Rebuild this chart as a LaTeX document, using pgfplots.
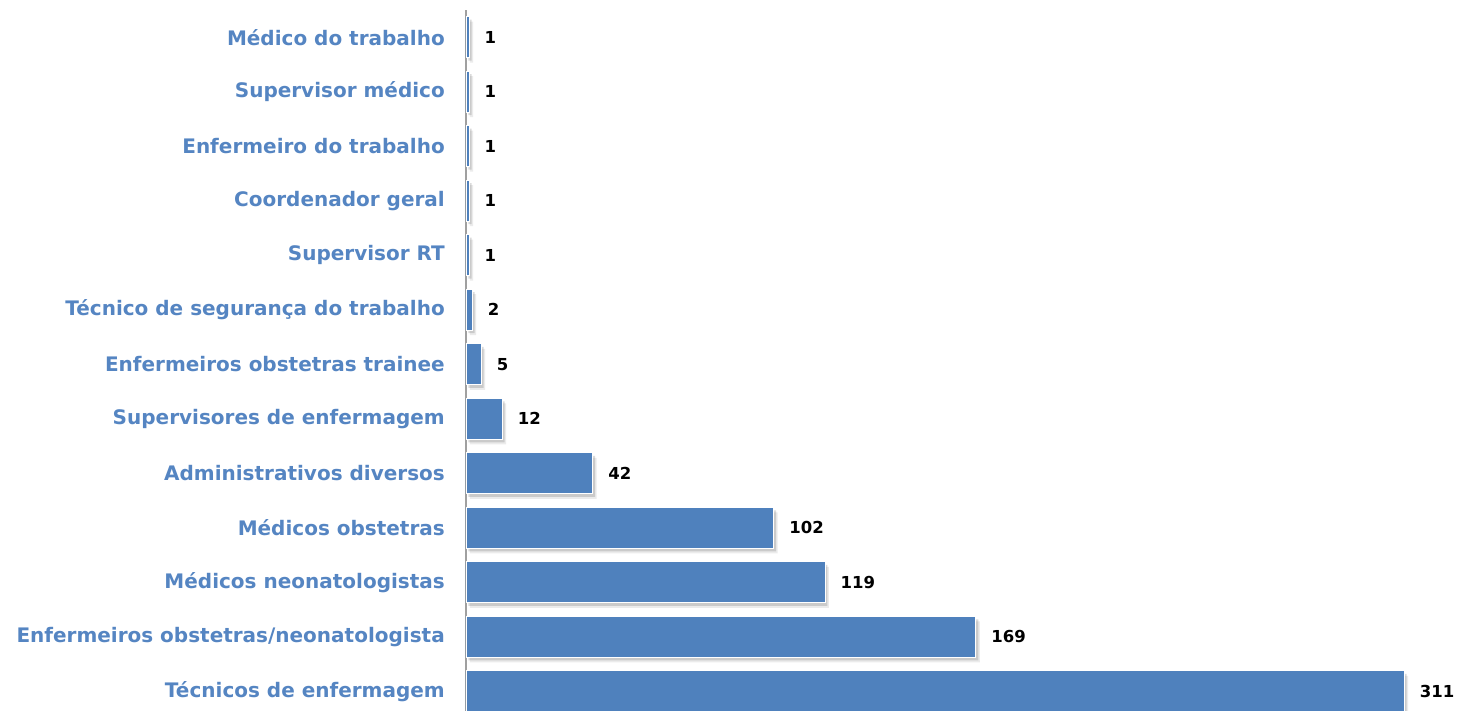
\documentclass[border=0pt]{standalone}
\usepackage{pgfplots}
\pgfplotsset{compat=1.18}
\usepackage{fontspec}
\setmainfont{DejaVu Sans}
\usetikzlibrary{shadows}
\definecolor{barblue}{HTML}{4F81BD}
\definecolor{lblblue}{HTML}{5585C2}
\definecolor{axisgray}{HTML}{A0A0A0}
\begin{document}
\begin{tikzpicture}
\begin{axis}[
  at={(0,0)}, anchor=south west,
  scale only axis,
  width=996pt, height=701pt,
  xbar, bar width=41pt,
  xmin=0, xmax=330.2,
  ymin=-0.362, ymax=12.5,
  axis x line=none,
  axis y line*=left,
  y axis line style={draw=axisgray, line width=1.8pt, -},
  ytick={0,...,12},
  yticklabels={Técnicos de enfermagem, Enfermeiros obstetras/neonatologista, Médicos neonatologistas, Médicos obstetras, Administrativos diversos, Supervisores de enfermagem, Enfermeiros obstetras trainee, Técnico de segurança do trabalho, Supervisor RT, Coordenador geral, Enfermeiro do trabalho, Supervisor médico, Médico do trabalho},
  major tick length=0pt,
  yticklabel style={font=\fontsize{20}{24}\selectfont\bfseries, text=lblblue, inner sep=0pt, xshift=-21pt},
  clip=false,
  /pgf/number format/assume math mode=true,
  nodes near coords,
  every node near coord/.append style={font=\fontsize{16.5}{20}\selectfont\bfseries, text=black, anchor=west, xshift=12pt},
]
\addplot[fill=barblue, draw=white, line width=0.8pt,
  drop shadow={shadow xshift=4pt, shadow yshift=-5pt, opacity=0.08, fill=black, draw=none},
  drop shadow={shadow xshift=2.5pt, shadow yshift=-3pt, opacity=0.14, fill=black, draw=none}] coordinates {
(311,0) (169,1) (119,2) (102,3) (42,4) (12,5) (5,6) (2,7) (1,8) (1,9) (1,10) (1,11) (1,12)};
\end{axis}
\pgfresetboundingbox
\path (-466pt,0pt) rectangle (996pt,711pt);
\end{tikzpicture}
\end{document}
